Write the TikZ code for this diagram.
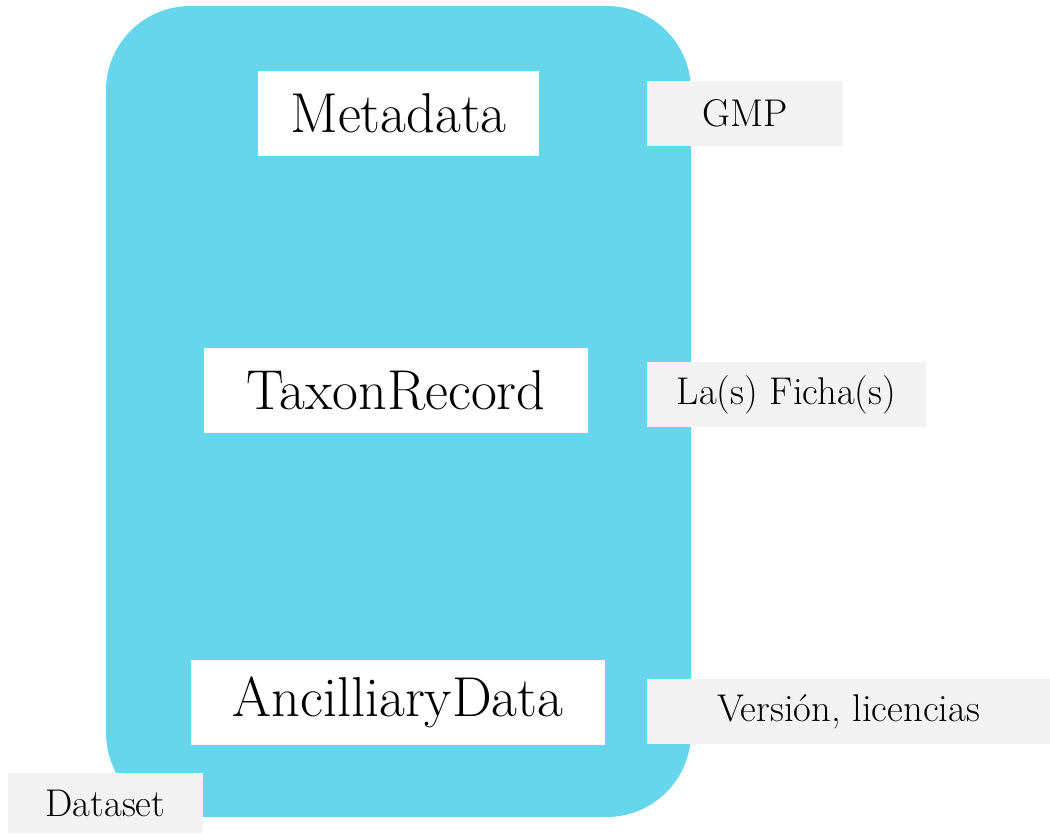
\documentclass[tikz,border=0pt]{standalone}
\usepackage{fontspec}
\usepackage{xcolor}
\definecolor{DatasetBlue}{HTML}{66D6EC}
\definecolor{TagGrey}{HTML}{F2F2F2}

\begin{document}
\begin{tikzpicture}[x=0.02cm,y=-0.02cm,
  part/.style={fill=white,inner sep=0pt,minimum height=1.7cm,font=\fontsize{32}{38}\selectfont},
  tag/.style={fill=TagGrey,inner sep=0pt,minimum height=1.3cm,font=\fontsize{22}{26}\selectfont}]
\useasboundingbox (0,0) rectangle (1050,833);
\fill[DatasetBlue,rounded corners=48pt] (106,6) rectangle (691,817);

\node[part,minimum width=5.62cm] (meta) at (398.5,113.5) {Metadata};
\node[part,minimum width=7.68cm] (taxon) at (396,390.5) {TaxonRecord};
\node[part,minimum width=8.28cm] (ancil) at (398,702.5) {AncilliaryData};

\node[tag,minimum width=3.92cm] (gmp) at (745,113.5) {GMP};
\node[tag,minimum width=5.58cm] (ficha) at (786.5,394.5) {La(s) Ficha(s)};
\node[tag,minimum width=8.06cm] (version) at (848.5,711.5) {Versión, licencias};
\node[tag,minimum width=3.9cm,minimum height=1.2cm] (dataset) at (105.5,803) {Dataset};

\end{tikzpicture}
\end{document}
